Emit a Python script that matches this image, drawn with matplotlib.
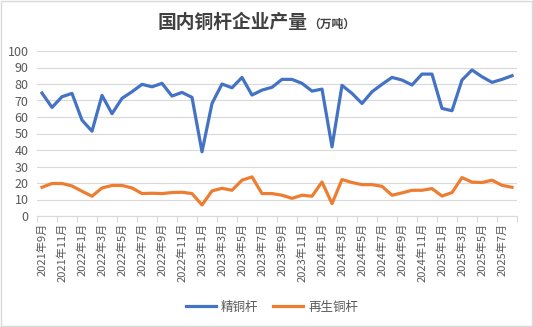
import matplotlib
matplotlib.use("Agg")
import matplotlib.pyplot as plt
from matplotlib.patches import Rectangle
from matplotlib.lines import Line2D

plt.rcParams['font.family'] = ['Noto Sans CJK SC', 'DejaVu Sans']

# Monthly output, 2021-09 .. 2025-08 (10k tonnes)
months = [f"{y}年{m}月" for y, m in
          [(2021, 9), (2021, 10), (2021, 11), (2021, 12)] +
          [(y, m) for y in (2022, 2023, 2024) for m in range(1, 13)] +
          [(2025, m) for m in range(1, 9)]]

refined_rod = [74.5, 65.8, 72.3, 74.3, 58.1, 51.4, 73.1, 62.0, 71.3, 75.3,
               79.8, 78.3, 80.4, 72.7, 74.9, 71.9, 38.9, 68.2, 80.0, 77.7,
               84.0, 73.3, 76.3, 78.0, 82.8, 82.8, 80.4, 75.7, 76.9, 41.9,
               79.2, 74.3, 68.2, 75.3, 79.8, 84.0, 82.4, 79.4, 86.0, 86.0,
               65.2, 63.8, 82.4, 88.5, 84.4, 81.0, 82.8, 85.0]

recycled_rod = [17.4, 19.7, 19.7, 18.2, 15.0, 12.0, 17.0, 18.5, 18.5, 17.0,
                13.6, 13.8, 13.6, 14.2, 14.4, 13.6, 6.7, 15.2, 16.8, 15.6,
                21.7, 23.7, 13.6, 13.6, 12.6, 10.7, 12.6, 12.0, 20.6, 7.5,
                22.1, 20.3, 19.0, 19.0, 18.0, 12.6, 14.0, 15.6, 15.6, 16.6,
                12.1, 14.2, 23.3, 20.5, 20.3, 21.7, 18.6, 17.4]

series_names = ["精铜杆", "再生铜杆"]
colors = ["#4472C4", "#ED7D31"]

W, H = 533, 327
fig = plt.figure(figsize=(W / 100, H / 100), dpi=100)

# chart border
fig.patches.append(Rectangle((0.002, 0.003), 0.996, 0.994, transform=fig.transFigure,
                             fill=False, edgecolor="#D9D9D9", linewidth=1.0))

ax = fig.add_axes([37 / W, 1 - 216 / H, 480 / W, 165 / H])
x = list(range(len(months)))
for vals, c in zip([refined_rod, recycled_rod], colors):
    ax.plot(x, vals, color=c, linewidth=2.3, solid_joinstyle="round")

ax.set_xlim(-0.5, len(months) - 0.5)
ax.set_ylim(0, 100)
ax.set_yticks(range(0, 101, 10))
ax.yaxis.grid(True, color="#D9D9D9", linewidth=0.8)
ax.set_axisbelow(True)
for s in ["top", "right", "left"]:
    ax.spines[s].set_visible(False)
ax.spines["bottom"].set_color("#D9D9D9")
ax.spines["bottom"].set_linewidth(0.8)

ax.tick_params(axis="y", length=0, labelsize=9, labelcolor="#595959", pad=6)
ax.set_xticks(x[::2])
ax.set_xticklabels(months[::2], rotation=90, fontsize=8, color="#595959")
ax.tick_params(axis="x", which="major", length=0, pad=5)
ax.set_xticks([i - 0.5 for i in range(0, len(months) + 1, 2)], minor=True)
ax.tick_params(axis="x", which="minor", length=4, color="#D9D9D9", width=0.8)

fig.text(308 / W, 1 - 23 / H, "国内铜杆企业产量", ha="right", va="center",
         fontsize=13.5, fontweight="bold", color="#404040")
fig.text(308 / W, 1 - 24 / H, "（万吨）", ha="left", va="center",
         fontsize=8.5, fontweight="bold", color="#404040")

handles = [Line2D([0], [0], color=c, linewidth=2.3) for c in colors]
fig.legend(handles, series_names, loc="center", bbox_to_anchor=(272 / W, 1 - 307 / H),
           ncol=2, frameon=False, fontsize=9, handlelength=2.4, columnspacing=1.2,
           handletextpad=0.4, labelcolor="#595959")

fig.savefig("out.png", dpi=100)
